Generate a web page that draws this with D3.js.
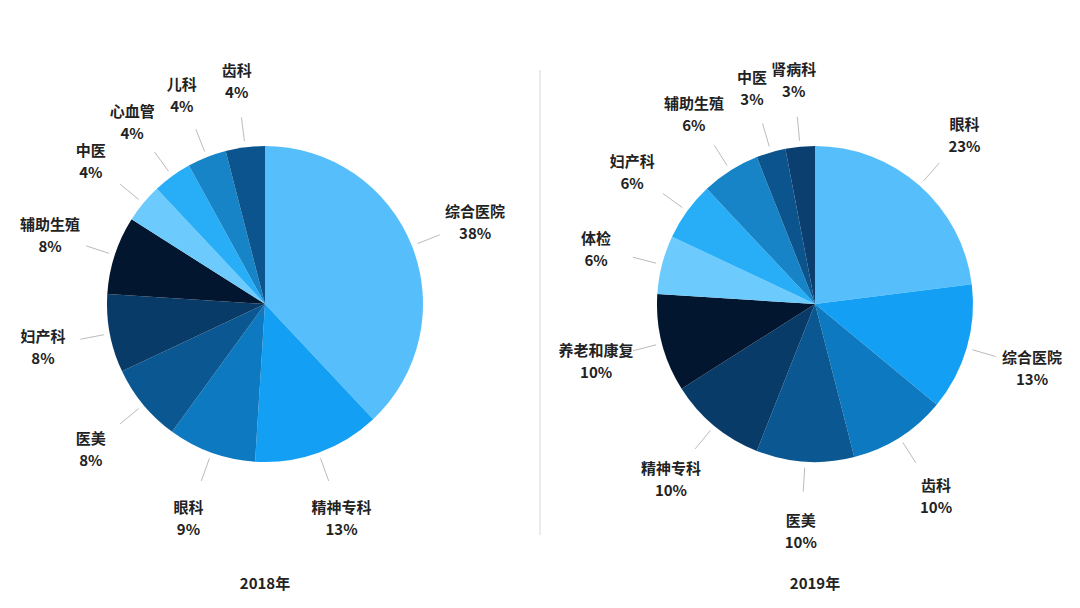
<!DOCTYPE html>
<html><head><meta charset="utf-8">
<script src="https://cdn.jsdelivr.net/npm/d3@7"></script>
<style>body{margin:0;background:#fff}text{font-family:"Noto Sans CJK SC",sans-serif}</style>
</head><body><svg id="chart" width="1080" height="608"></svg>
<script>
const names2018 = ['综合医院','精神专科','眼科','医美','妇产科','辅助生殖','中医','心血管','儿科','齿科'];
const values2018 = [38,13,9,8,8,8,4,4,4,4];
const colors2018 = ['#56bffb','#13a0f4','#0d79c1','#0a5791','#093b69','#03162f','#6ccafc','#27aef7','#1684c6','#0c548d'];
const names2019 = ['眼科','综合医院','齿科','医美','精神专科','养老和康复','体检','妇产科','辅助生殖','中医','肾病科'];
const values2019 = [23,13,10,10,10,10,6,6,6,3,3];
const colors2019 = ['#56bffb','#13a0f4','#0d79c1','#0a5791','#093b69','#03162f','#6ccafc','#27aef7','#1684c6','#0c548d','#0a3f70'];

const svg = d3.select('#chart');
const R = 158;

// divider
svg.append('line').attr('x1', 540).attr('x2', 540).attr('y1', 70).attr('y2', 535)
  .attr('stroke', '#d8d8d8').attr('stroke-width', 1);

function drawPie(cx, cy, names, values, colors, title) {
  const g = svg.append('g').attr('transform', `translate(${cx},${cy})`);
  const data = names.map((n, i) => ({ name: n, value: values[i], color: colors[i] }));
  const pie = d3.pie().value(d => d.value).sort(null);
  const arc = d3.arc().innerRadius(0).outerRadius(R);
  const arcs = pie(data);
  g.selectAll('path').data(arcs).enter().append('path')
    .attr('d', arc).attr('fill', d => d.data.color);

  arcs.forEach(d => {
    const a = (d.startAngle + d.endAngle) / 2;
    const sx = Math.sin(a), sy = -Math.cos(a);
    g.append('line')
      .attr('x1', sx * (R + 6)).attr('y1', sy * (R + 6))
      .attr('x2', sx * (R + 30)).attr('y2', sy * (R + 30))
      .attr('stroke', '#bbb').attr('stroke-width', 1);
    const lr = R + 68;
    const t = g.append('text').attr('text-anchor', 'middle')
      .attr('x', sx * lr).attr('y', sy * lr - 4)
      .attr('font-size', 15).attr('font-weight', 'bold').attr('fill', '#222');
    t.append('tspan').attr('x', sx * lr).text(d.data.name);
    t.append('tspan').attr('x', sx * lr).attr('dy', 22).text(d.data.value + '%');
  });

  svg.append('text').attr('x', cx).attr('y', 589).attr('text-anchor', 'middle')
    .attr('font-size', 15).attr('font-weight', 'bold').attr('fill', '#222').text(title);
}

drawPie(265, 304, names2018, values2018, colors2018, '2018年');
drawPie(815, 304, names2019, values2019, colors2019, '2019年');
</script></body></html>
